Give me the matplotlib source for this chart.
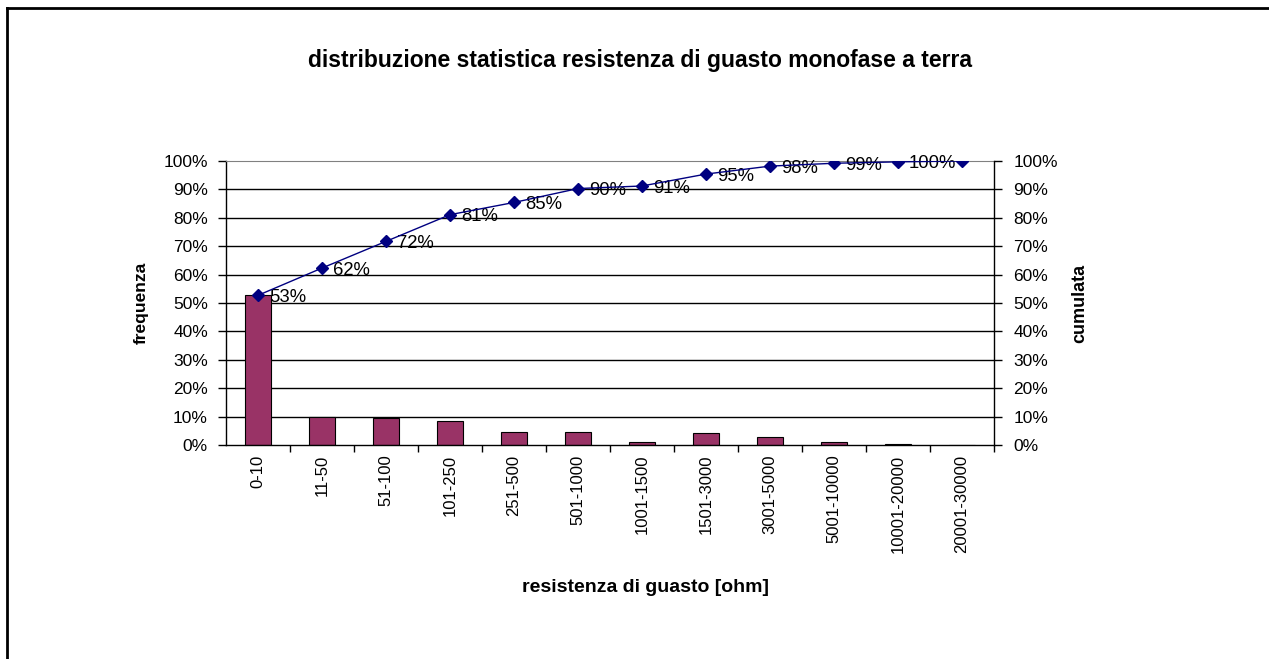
import matplotlib
matplotlib.use("Agg")
import matplotlib.pyplot as plt
from matplotlib.lines import Line2D
import numpy as np

categories = ["0-10", "11-50", "51-100", "101-250", "251-500", "501-1000",
              "1001-1500", "1501-3000", "3001-5000", "5001-10000",
              "10001-20000", "20001-30000"]
frequenza = [0.527, 0.098, 0.094, 0.086, 0.046, 0.046, 0.010, 0.042, 0.027, 0.010, 0.005, 0.0]
cumulata = [0.527, 0.623, 0.717, 0.811, 0.854, 0.903, 0.912, 0.954, 0.982, 0.992, 0.997, 1.0]
pct_ticks = [0, 0.1, 0.2, 0.3, 0.4, 0.5, 0.6, 0.7, 0.8, 0.9, 1.0]
# the last point carries no data label in the reference
labelled_points = 11

plt.rcParams['font.family'] = ['Liberation Sans', 'DejaVu Sans']

W, H = 1269, 659
fig = plt.figure(figsize=(W / 100, H / 100), dpi=100)
fig.patch.set_facecolor('white')

# chart-area border (top and left only visible)
fig.add_artist(Line2D([7 / W, 7 / W], [0, 1 - 8 / H], transform=fig.transFigure, color='black', lw=2))
fig.add_artist(Line2D([7 / W, 1], [1 - 8 / H, 1 - 8 / H], transform=fig.transFigure, color='black', lw=2))

left, right, top, bottom = 226, 994, 161, 445
ax = fig.add_axes([left / W, 1 - bottom / H, (right - left) / W, (bottom - top) / H])
x = np.arange(len(categories))

for yv in pct_ticks[1:-1]:
    ax.axhline(yv, color='black', lw=1, zorder=1)

ax.bar(x, frequenza, width=0.42, color='#993366', edgecolor='black', linewidth=0.8, zorder=2)
ax.set_xlim(-0.5, len(categories) - 0.5)
ax.set_ylim(0, 1)
ax.set_yticks(pct_ticks)
ax.set_yticklabels([f"{int(round(v * 100))}%" for v in pct_ticks], fontsize=12.5)
ax.set_xticks(x)
ax.set_xticklabels(categories, rotation=90, fontsize=12)
ax.tick_params(axis='x', which='major', length=0, pad=7)
ax.set_xticks(np.arange(len(categories)) + 0.5, minor=True)
ax.tick_params(axis='x', which='minor', length=5, direction='out', width=1)
ax.tick_params(axis='y', length=6, direction='out', width=1, pad=7)
ax.spines['top'].set_color('#808080')
ax.spines['right'].set_visible(False)
for s in ['left', 'bottom']:
    ax.spines[s].set_linewidth(1)

fig.text(141 / W, 1 - 303 / H, "frequenza", rotation=90, ha='center', va='center',
         fontsize=12.5, fontweight='bold')
fig.text(1080 / W, 1 - 303 / H, "cumulata", rotation=90, ha='center', va='center',
         fontsize=13, fontweight='bold')
fig.text(645 / W, 1 - 588 / H, "resistenza di guasto [ohm]", ha='center', va='center',
         fontsize=14, fontweight='bold')

ax2 = ax.twinx()
ax2.plot(x, cumulata, color='#000080', lw=1, marker='D', markersize=6,
         markerfacecolor='#000080', markeredgecolor='#000080', zorder=3)
ax2.set_ylim(0, 1)
ax2.set_yticks(pct_ticks)
ax2.set_yticklabels([f"{int(round(v * 100))}%" for v in pct_ticks], fontsize=12.5)
ax2.tick_params(axis='y', length=6, direction='out', width=1, pad=8)
ax2.spines['top'].set_visible(False)
ax2.spines['left'].set_visible(False)
ax2.spines['bottom'].set_visible(False)
ax2.spines['right'].set_linewidth(1)
for xi, v in list(zip(x, cumulata))[:labelled_points]:
    ax2.annotate(f"{int(round(v * 100))}%", (xi, v), xytext=(8, -1.5), textcoords='offset points',
                 ha='left', va='center', fontsize=13.3, color='black', zorder=2)

fig.text(640 / W, 1 - 60 / H, "distribuzione statistica resistenza di guasto monofase a terra",
         ha='center', va='center', fontsize=16.5, fontweight='bold')

fig.savefig("out.png", dpi=100, facecolor='white')
